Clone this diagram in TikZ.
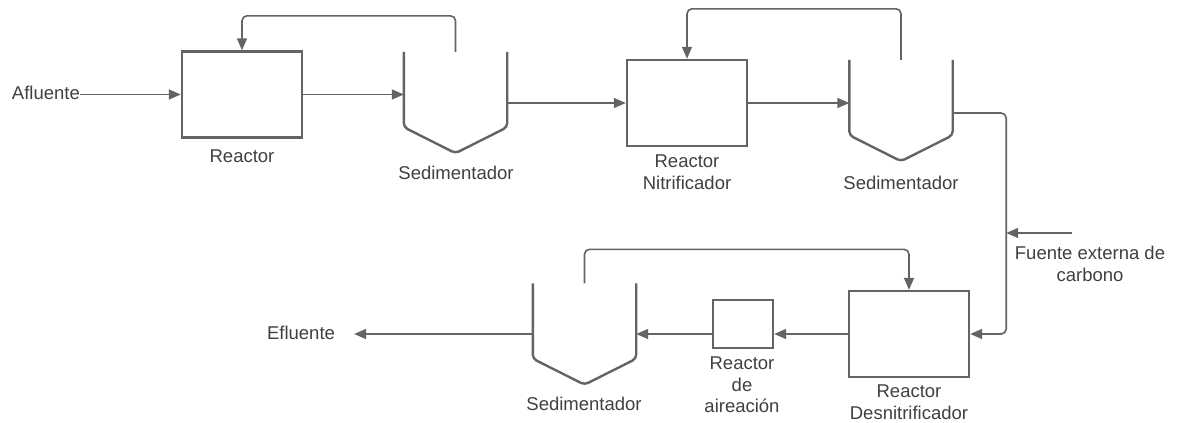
\documentclass[tikz,border=0pt]{standalone}
\usepackage{fontspec}
\setmainfont{Liberation Sans}
\usetikzlibrary{arrows.meta,calc}
\definecolor{linec}{HTML}{646464}
\definecolor{textc}{HTML}{404040}
\newcommand\drawtank[1]{\draw[tankline] (#1.north west) -- (#1.south west) -- ($(#1.south)+(0,26)$) -- (#1.south east) -- (#1.north east);}
\begin{document}
\begin{tikzpicture}[x=1pt,y=-1pt,
 box/.style={draw=linec, line width=2.4pt, inner sep=0, minimum width=120pt, minimum height=86pt},
 tank/.style={inner sep=0, minimum width=103pt, minimum height=75pt},
 tankline/.style={draw=linec, line width=2.4pt, rounded corners=4pt, line join=round},
 conn/.style={draw=linec, line width=1.6pt, -{Triangle[length=12pt,width=10pt]}, rounded corners=5pt},
 lbl/.style={text=textc, font=\fontsize{18.5}{21.5}\selectfont, align=center, inner sep=0}]
\useasboundingbox (0,0) rectangle (1178,423);
\fill[white] (0,0) rectangle (1178,423);
% units
\node[box] (r1) at (242,94.5) {};
\node[tank] (s1) at (455.5,89.5) {};
\node[box] (r2) at (687,103) {};
\node[tank] (s2) at (901,97.5) {};
\node[box] (r3) at (909,334) {};
\node[box, minimum width=60pt, minimum height=48pt] (ra) at (743,324) {};
\node[tank] (s3) at (584.5,321) {};
\drawtank{s1}
\drawtank{s2}
\drawtank{s3}
% labels
\node[lbl] (l1) at (242,156) {Reactor};
\node[lbl] (l2) at (687,172) {Reactor\\Nitrificador};
\node[lbl] (l3) at (456,173) {Sedimentador};
\node[lbl] (l4) at (901,183) {Sedimentador};
\node[lbl] (l5) at (584,404) {Sedimentador};
\node[lbl] (l6) at (742,385) {Reactor\\de\\aireación};
\node[lbl] (l7) at (909,402) {Reactor\\Desnitrificador};
\node[lbl, anchor=east] (af) at (80,93) {Afluente};
\node[lbl] (ef) at (301,333) {Efluente};
\node[lbl] (fu) at (1090,264) {Fuente externa de\\carbono};
% connectors
\draw[conn] (r1.west -| af.east) -- (r1.west);
\draw[conn] (r1.east) -- (r1.east -| s1.west);
\draw[conn] (s1.north) -- ++(0,-36) -| (r1.north);
\draw[conn] (r2.west -| s1.east) -- (r2.west);
\draw[conn] (r2.east) -- (r2.east -| s2.west);
\draw[conn] (s2.north) -- ++(0,-51) -| (r2.north);
\coordinate (s2out) at ($(s2.east)+(0,15.5)$);
\coordinate (cline) at ($(r3.east)+(36,0)$);
\draw[conn] (s2out) -| (cline) -- (r3.east);
\coordinate (fsrc) at (1072,233);
\draw[conn] (fsrc) -- (fsrc -| cline);
\draw[conn] (s3.north) -- ++(0,-34) -| (r3.north);
\draw[conn] (r3.west) -- (r3.west -| ra.east);
\draw[conn] (r3.west -| ra.west) -- (r3.west -| s3.east);
\coordinate (eftip) at ([xshift=19pt]ef.east);
\draw[conn] (r3.west -| s3.west) -- (eftip |- r3.west);
\end{tikzpicture}
\end{document}
